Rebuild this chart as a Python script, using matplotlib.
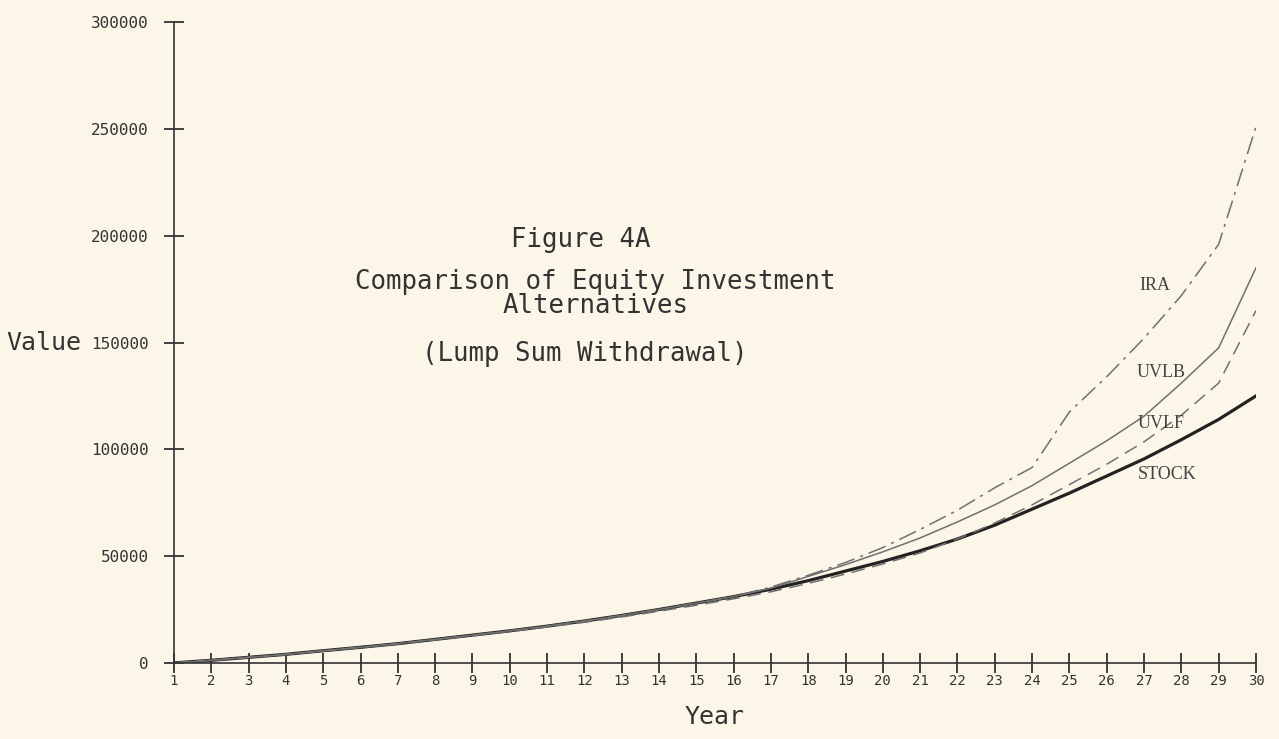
import matplotlib
matplotlib.use("Agg")
import matplotlib.pyplot as plt

# years on the x axis
years = list(range(1, 31))

# values
stock = [0, 1200, 2600, 4000, 5700, 7300, 9000, 11000, 13000, 15000,
         17200, 19600, 22200, 25000, 28000, 31000, 34500, 38500, 43000, 47500,
         52500, 58000, 64500, 72000, 79500, 87500, 95500, 104500, 114000, 125000]
uvlf = [0, 1200, 2500, 3900, 5600, 7200, 8900, 10800, 12800, 14700,
        16800, 19000, 21500, 24200, 27000, 30000, 33300, 37200, 41600, 46300,
        51500, 58000, 65500, 74000, 83500, 93000, 103500, 116000, 131000, 165000]
uvlb = [0, 1200, 2600, 4000, 5700, 7300, 9000, 11000, 13000, 15000,
        17200, 19600, 22200, 25000, 28000, 31000, 35000, 40500, 46000, 52000,
        58500, 66000, 74000, 83000, 93500, 104000, 115500, 131000, 147500, 185000]
ira = [0, 1200, 2600, 4000, 5700, 7300, 9000, 11000, 13000, 15000,
       17200, 19600, 22200, 25000, 28000, 31000, 35500, 41000, 47000, 54000,
       62500, 71500, 82000, 91500, 117500, 134000, 152000, 172000, 196000, 251000]

y_ticks = [0, 50000, 100000, 150000, 200000, 250000, 300000]

bg = '#fbf6e7'
fig = plt.figure(figsize=(12.79, 7.39), dpi=100, facecolor=bg)
ax = fig.add_axes([0.136, 0.103, 0.846, 0.867], facecolor=bg)

ax.plot(years, stock, color='#222222', lw=2.3, ls='-')
ax.plot(years, uvlf, color='#707070', lw=1.1, ls=(0, (9, 5)))
ax.plot(years, uvlb, color='#707070', lw=1.1, ls='-')
ax.plot(years, ira, color='#707070', lw=1.1, ls=(0, (12, 4, 2, 4)))

ax.set_xlim(1, 30)
ax.set_ylim(0, 300000)
ax.set_xticks(years)
ax.set_yticks(y_ticks)
ax.set_yticklabels([str(v) for v in y_ticks], family='DejaVu Sans Mono', fontsize=11.5)
ax.set_xticklabels([str(y) for y in years], family='DejaVu Sans Mono', fontsize=10)

for s in ['top', 'right']:
    ax.spines[s].set_visible(False)
for s in ['left', 'bottom']:
    ax.spines[s].set_color('#333333')
    ax.spines[s].set_linewidth(1.2)
ax.tick_params(axis='both', direction='inout', length=14, width=1.3, colors='#333333')
ax.tick_params(axis='x', pad=1)
ax.tick_params(axis='y', pad=11)

ax.text(-0.155, 150000, 'Value', transform=ax.get_yaxis_transform(),
        family='DejaVu Sans Mono', fontsize=18, color='#333333', ha='left', va='center')
ax.set_xlabel('Year', family='DejaVu Sans Mono', fontsize=18, color='#333333', labelpad=12)

# figure captions inside the plot
tf = dict(family='DejaVu Sans Mono', fontsize=18.5, color='#333333', ha='center', va='center')
ax.text(11.9, 198000, 'Figure 4A', **tf)
ax.text(12.3, 172500, 'Comparison of Equity Investment\nAlternatives', linespacing=0.9, **tf)
ax.text(12.0, 144500, '(Lump Sum Withdrawal)', **tf)

# series labels
lf = dict(family='Liberation Serif', fontsize=13, color='#444444', ha='left', va='center')
ax.text(26.87, 176500, 'IRA', **lf)
ax.text(26.8, 136000, 'UVLB', **lf)
ax.text(26.82, 112000, 'UVLF', **lf)
ax.text(26.82, 88000, 'STOCK', **lf)

fig.savefig('out.png', dpi=100, facecolor=bg)
